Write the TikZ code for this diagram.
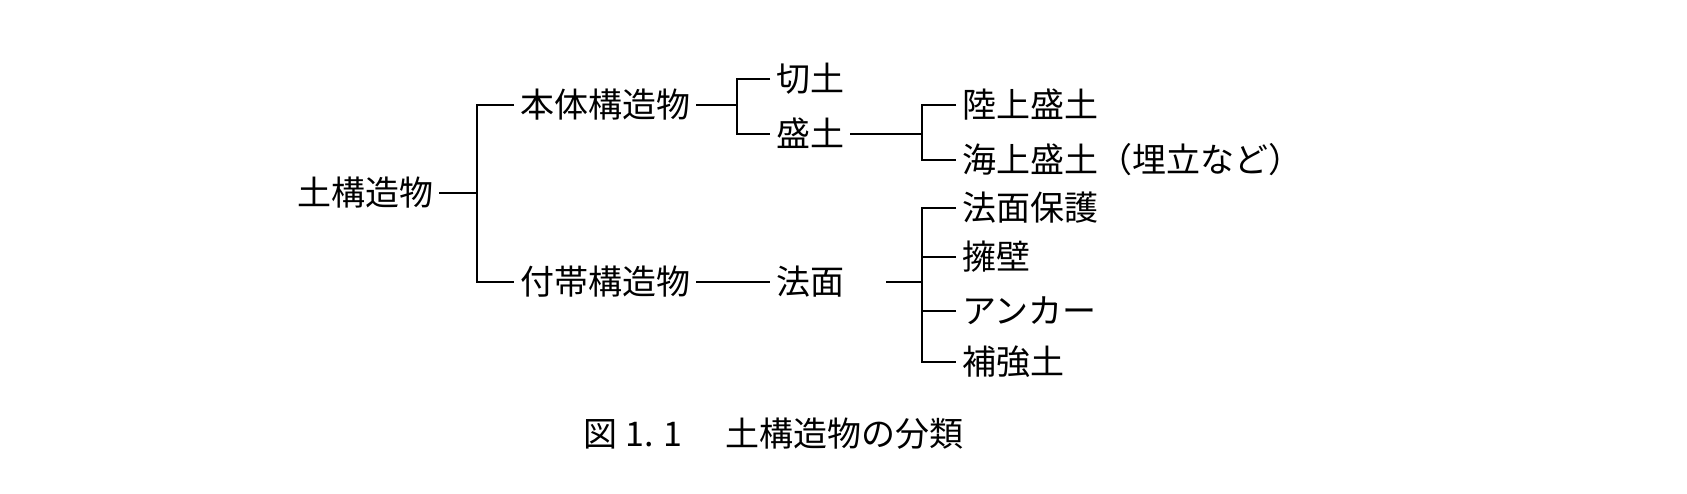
\documentclass[tikz,border=0pt]{standalone}
\usepackage{fontspec}
\newfontfamily\jp{Noto Sans CJK JP}
\begin{document}
\begin{tikzpicture}[x=1pt,y=-1pt,
  lbl/.style={anchor=west, inner xsep=6pt, inner ysep=0pt, text height=29.9pt, text depth=4.1pt,
    font=\jp\fontsize{34}{40}\selectfont},
  conn/.style={draw, line width=1.7pt, line cap=butt}]
\useasboundingbox (0,0) rectangle (1687,494);
% level 0
\node[lbl] (root) at (291,193) {土構造物};
% level 1
\node[lbl] (hontai) at (514,105) {本体構造物};
\node[lbl] (futai) at (514,282) {付帯構造物};
% level 2
\node[lbl] (kiri) at (770,79) {切土};
\node[lbl] (mori) at (770,134) {盛土};
\node[lbl] (houmen) at (770,282) {法面};
% level 3
\node[lbl] (rikujo) at (956,105) {陸上盛土};
\node[lbl] (kaijo) at (956,160) {海上盛土（埋立など）};
\node[lbl] (hogo) at (956,208) {法面保護};
\node[lbl] (youheki) at (956,257) {擁壁};
\node[lbl] (anchor) at (956,311) {アンカー};
\node[lbl] (hokyo) at (956,362) {補強土};
% junctions
\coordinate (j0) at (477,193);
\coordinate (j1) at (737,105);
\coordinate (j2) at (922,134);
\coordinate (j3) at (922,282);
% connectors
\path[conn] (root.east) -- (j0);
\path[conn] (hontai.west) -| (j0) |- (futai.west);
\path[conn] (hontai.east) -- (j1);
\path[conn] (kiri.west) -| (j1) |- (mori.west);
\path[conn] (futai.east) -- (houmen.west);
\path[conn] (mori.east) -- (j2);
\path[conn] (rikujo.west) -| (j2) |- (kaijo.west);
\path[conn, shorten <=36pt] (houmen.east) -- (j3);
\path[conn] (hogo.west) -| (j3) |- (hokyo.west);
\path[conn] (youheki.west) -- (youheki.west -| j3);
\path[conn] (anchor.west) -- (anchor.west -| j3);
% caption
\node[anchor=west, inner sep=0pt, text height=29.9pt, text depth=4.1pt,
  font=\jp\fontsize{34}{40}\selectfont] (cap) at (583,434)
  {図\hspace{8pt}1.\hspace{10pt}1\hspace{43pt}土構造物の分類};
\end{tikzpicture}
\end{document}
